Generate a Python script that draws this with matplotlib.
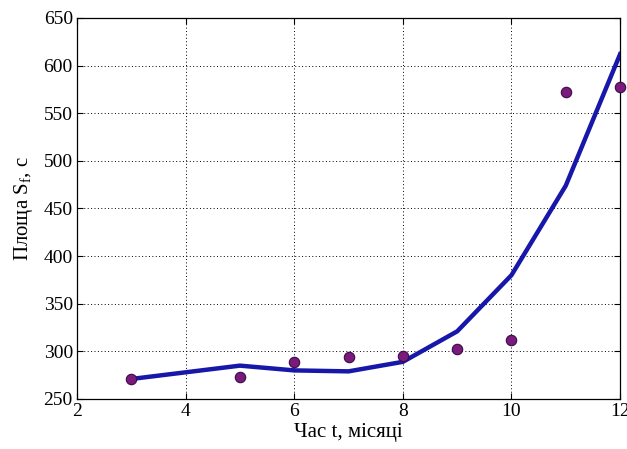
import numpy as np
import matplotlib
matplotlib.use('Agg')
import matplotlib.pyplot as plt

# fitted curve (line) and measured points
t_fit = [3, 4, 5, 6, 7, 8, 9, 10, 11, 12]
s_fit = [271, 278, 285, 280, 279, 289, 321, 380, 474, 612]
t_obs = [3, 5, 6, 7, 8, 9, 10, 11, 12]
s_obs = [271, 273, 289, 294, 295, 302, 312, 572, 578]

x_ticks = [2, 4, 6, 8, 10, 12]
y_ticks = [250, 300, 350, 400, 450, 500, 550, 600, 650]

plt.rcParams['font.family'] = ['Liberation Serif', 'DejaVu Serif']
plt.rcParams['mathtext.fontset'] = 'custom'
plt.rcParams['mathtext.rm'] = 'Liberation Serif'
plt.rcParams['mathtext.it'] = 'Liberation Serif'

fig = plt.figure(figsize=(6.27, 4.49), dpi=100)
ax = fig.add_axes([0.1228, 0.1114, 0.8662, 0.8486])

ax.plot(t_fit, s_fit, color='#1717aa', lw=3.2, zorder=3)
ax.plot(t_obs, s_obs, 'o', ms=7.5, mfc='#7a1a7a', mec='#3a0a4a', mew=0.8, zorder=4,
        clip_on=False)

ax.set_xlim(2, 12)
ax.set_ylim(250, 650)
ax.set_xticks(x_ticks)
ax.set_yticks(y_ticks)
ax.grid(True, linestyle=(0, (1, 2.5)), color='black', lw=0.7)
ax.tick_params(direction='in', labelsize=14, length=4, top=True, right=True, pad=3)
ax.set_xlabel('Час t, місяці', fontsize=15, labelpad=2)
ax.set_ylabel(r'Площа S$_\mathrm{f}$, c', fontsize=15, labelpad=6)
for s in ax.spines.values():
    s.set_linewidth(0.9)

fig.savefig('out.png', dpi=100, facecolor='white')
